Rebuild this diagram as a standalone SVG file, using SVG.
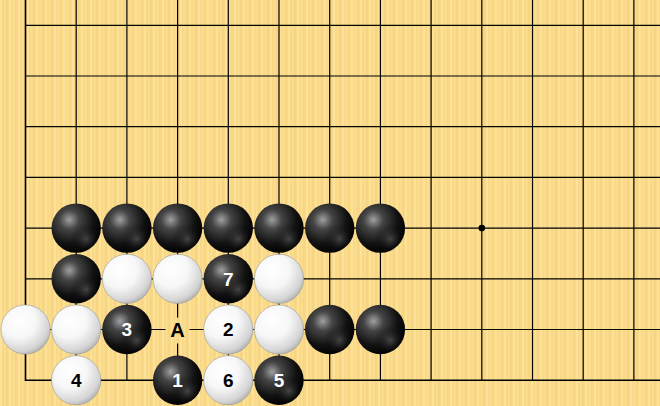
<svg xmlns="http://www.w3.org/2000/svg" xmlns:xlink="http://www.w3.org/1999/xlink" width="660" height="406" viewBox="0 0 660 406">
<defs>
<pattern id="wood" x="0" y="0" width="9" height="10" patternUnits="userSpaceOnUse">
<rect width="9" height="10" fill="#F9D886"/>
<rect x="0" width="2" height="10" fill="#FCE29A"/>
<rect x="4" width="1.5" height="10" fill="#FBDE92"/>
<rect x="6.5" width="1" height="10" fill="#F6D27E"/>
</pattern>
<radialGradient id="gB" cx="0.36" cy="0.33" r="0.7">
<stop offset="0" stop-color="#a0a0a0"/>
<stop offset="0.28" stop-color="#454545"/>
<stop offset="0.7" stop-color="#111"/>
<stop offset="1" stop-color="#000"/>
</radialGradient>
<radialGradient id="gBr" cx="0.7" cy="0.72" r="0.32">
<stop offset="0" stop-color="#6a6a6a" stop-opacity="0.6"/>
<stop offset="1" stop-color="#000" stop-opacity="0"/>
</radialGradient>
<radialGradient id="gW" cx="0.36" cy="0.32" r="0.78">
<stop offset="0" stop-color="#ffffff"/>
<stop offset="0.45" stop-color="#f7f7f7"/>
<stop offset="0.8" stop-color="#d4d4d4"/>
<stop offset="1" stop-color="#a0a0a0"/>
</radialGradient>
<g id="B">
<circle r="24.7" fill="url(#gB)"/>
<circle r="24.7" fill="url(#gBr)"/>
</g>
<g id="W">
<circle r="24.6" fill="url(#gW)" stroke="#999" stroke-width="0.6"/>
</g>
</defs>
<style>
.ln{stroke:#000;stroke-width:1.2;fill:none}
.edge{stroke:#000;stroke-width:1.6;fill:none}
.lb{font-family:"Liberation Sans",Arial,sans-serif;font-weight:bold;font-size:19px;text-anchor:middle}
.lw{fill:#fff}
.lk{fill:#000}
</style>
<rect width="660" height="406" fill="url(#wood)"/>
<g id="board">
<path class="ln" d="M25.5 25.3H660M25.5 76H660M25.5 126.7H660M25.5 177.4H660M25.5 228.1H660M25.5 278.8H660M25.5 329.5H660"/>
<path class="ln" d="M76.2 0V380.2M126.9 0V380.2M177.6 0V380.2M228.3 0V380.2M279 0V380.2M329.7 0V380.2M380.4 0V380.2M431.1 0V380.2M481.8 0V380.2M532.5 0V380.2M583.2 0V380.2M633.9 0V380.2"/>
<path class="edge" d="M25.5 0V381M25 380.2H660"/>
<circle cx="481.8" cy="228.1" r="3.3" fill="#000"/>
</g>
<g id="connectors"/>
<g id="b1"><use xlink:href="#B" x="76.2" y="228.1"/></g>
<g id="b2"><use xlink:href="#B" x="126.9" y="228.1"/></g>
<g id="b3"><use xlink:href="#B" x="177.6" y="228.1"/></g>
<g id="b4"><use xlink:href="#B" x="228.3" y="228.1"/></g>
<g id="b5"><use xlink:href="#B" x="279" y="228.1"/></g>
<g id="b6"><use xlink:href="#B" x="329.7" y="228.1"/></g>
<g id="b7"><use xlink:href="#B" x="380.4" y="228.1"/></g>
<g id="b8"><use xlink:href="#B" x="76.2" y="278.8"/></g>
<g id="w1"><use xlink:href="#W" x="126.9" y="278.8"/></g>
<g id="w2"><use xlink:href="#W" x="177.6" y="278.8"/></g>
<g id="m7"><use xlink:href="#B" x="228.3" y="278.8"/><text class="lb lw" x="228.3" y="285.6">7</text></g>
<g id="w3"><use xlink:href="#W" x="279" y="278.8"/></g>
<g id="w4"><use xlink:href="#W" x="25.5" y="329.5"/></g>
<g id="w5"><use xlink:href="#W" x="76.2" y="329.5"/></g>
<g id="m3"><use xlink:href="#B" x="126.9" y="329.5"/><text class="lb lw" x="126.9" y="336.3">3</text></g>
<g id="markA"><rect x="165.5" y="317.5" width="24" height="26" fill="url(#wood)"/><text class="lb lk" x="177.6" y="337" style="font-size:20px">A</text></g>
<g id="m2"><use xlink:href="#W" x="228.3" y="329.5"/><text class="lb lk" x="228.3" y="336.3">2</text></g>
<g id="w6"><use xlink:href="#W" x="279" y="329.5"/></g>
<g id="b9"><use xlink:href="#B" x="329.7" y="329.5"/></g>
<g id="b10"><use xlink:href="#B" x="380.4" y="329.5"/></g>
<g id="m4"><use xlink:href="#W" x="76.2" y="380.2"/><text class="lb lk" x="76.2" y="387">4</text></g>
<g id="m1"><use xlink:href="#B" x="177.6" y="380.2"/><text class="lb lw" x="177.6" y="387">1</text></g>
<g id="m6"><use xlink:href="#W" x="228.3" y="380.2"/><text class="lb lk" x="228.3" y="387">6</text></g>
<g id="m5"><use xlink:href="#B" x="279" y="380.2"/><text class="lb lw" x="279" y="387">5</text></g>
</svg>
